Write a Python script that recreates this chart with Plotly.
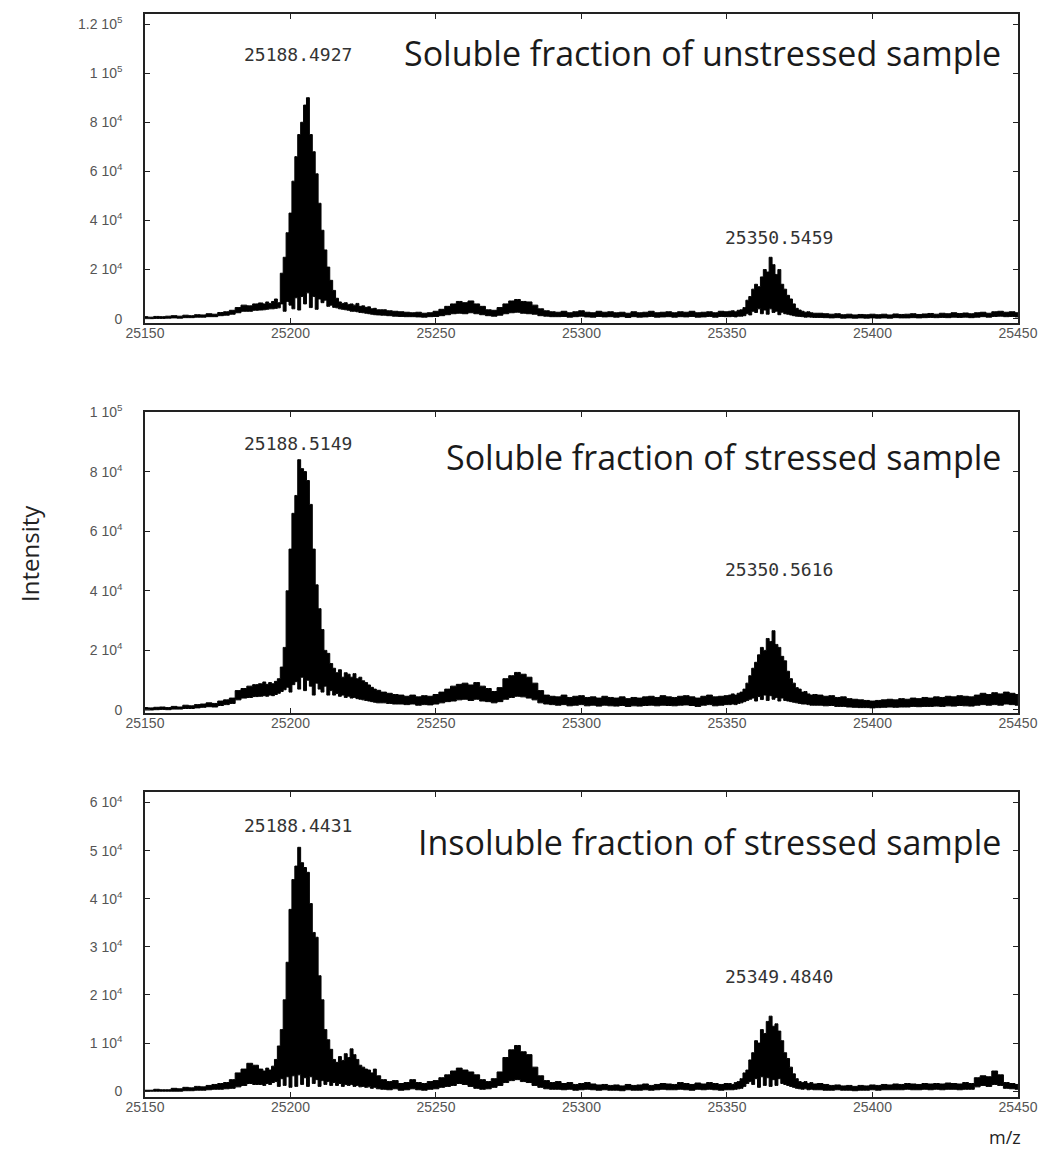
import plotly.graph_objects as go
from plotly.subplots import make_subplots

# m/z sampling grid (2 Da in flat regions, 1 Da across the two main peaks)
mz = [
	25150, 25152, 25154, 25156, 25158, 25160, 25162, 25164, 25166, 25168,
	25170, 25172, 25174, 25176, 25178, 25180, 25182, 25184, 25186, 25188,
	25190, 25191, 25192, 25193, 25194, 25195, 25196, 25197, 25198, 25199,
	25200, 25201, 25202, 25203, 25204, 25205, 25206, 25207, 25208, 25209,
	25210, 25211, 25212, 25213, 25214, 25215, 25216, 25217, 25218, 25219,
	25220, 25221, 25222, 25223, 25224, 25225, 25226, 25227, 25228, 25229,
	25230,
	25232, 25234, 25236, 25238, 25240, 25242, 25244, 25246, 25248, 25250,
	25252, 25254, 25256, 25258, 25260, 25262, 25264, 25266, 25268, 25270,
	25272, 25274, 25276, 25278, 25280, 25282, 25284, 25286, 25288, 25290,
	25292, 25294, 25296, 25298, 25300, 25302, 25304, 25306, 25308, 25310,
	25312, 25314, 25316, 25318, 25320, 25322, 25324, 25326, 25328, 25330,
	25332, 25334, 25336, 25338, 25340, 25342, 25344, 25346, 25348, 25350,
	25351, 25352, 25353, 25354, 25355, 25356, 25357, 25358, 25359, 25360,
	25361, 25362, 25363, 25364, 25365, 25366, 25367, 25368, 25369, 25370,
	25371, 25372, 25373, 25374, 25375, 25376, 25377, 25378, 25379, 25380,
	25382, 25384, 25386, 25388, 25390, 25392, 25394, 25396, 25398, 25400,
	25402, 25404, 25406, 25408, 25410, 25412, 25414, 25416, 25418, 25420,
	25422, 25424, 25426, 25428, 25430, 25432, 25434, 25436, 25438, 25440,
	25442, 25444, 25446, 25448, 25450,
]

# intensities in thousands of counts: top and bottom of the noisy trace
unstressed_top = [
	0.8,0.6,0.9,0.8,1.0,1.2,1.0,1.4,1.2,1.6, 1.5,2.0,1.8,2.5,2.8,3.4,4.5,5.5,5.2,6.0,
	6.4,6.0,6.8,6.2,7.0,8.0,6.5,18.5,25,35, 43,56,66,75,80,87,90,75,68,59,
	47,36,28,21,15.6,11.5,8.3,6.8,6.2,6.5, 5.8,6.0,5.5,6.2,5.0,5.2,4.6,4.8,4.0,4.2, 3.6,
	3.6,3.2,3.0,2.8,2.6,2.4,2.6,2.2,2.4,3.0, 3.8,5.0,6.0,7.0,6.5,7.2,6.0,5.0,3.6,3.4,
	4.5,6.0,7.2,7.8,7.0,6.8,5.5,4.0,3.2,2.8, 2.6,3.0,2.4,2.8,3.2,2.6,2.4,3.0,2.6,2.8,
	2.4,2.6,2.2,2.8,2.4,2.6,3.0,2.4,2.6,2.8, 2.4,2.8,2.6,3.0,2.4,2.6,2.8,2.4,3.0,2.8,
	3.0,3.2,2.8,3.4,3.6,4.5,7.5,9.0,12,14, 13,17,20,19,25,22,18,20,14,12,
	9.5,8.0,6.0,4.2,3.5,3.0,2.6,2.8,2.4,2.2,
	2.2,2.0,1.8,2.0,1.6,1.8,1.5,1.7,1.6,1.8, 1.6,1.8,1.5,1.9,1.7,1.8,2.0,1.7,1.9,2.1,
	1.8,2.2,2.0,2.4,2.1,2.3,2.0,2.4,2.6,2.2, 2.8,3.0,2.6,2.8,2.4,
]
unstressed_bottom = [
	0.0,0.0,0.1,0.1,0.2,0.3,0.2,0.4,0.4,0.6, 0.6,0.8,0.8,1.2,1.4,1.8,2.4,3.0,3.0,3.4,
	3.5,3.6,3.8,4.0,4.0,4.2,4.4,6.0,3.0,7.0, 5.5,4.0,8.5,3.5,9.0,6.0,10.5,4.5,9.0,3.8,
	8.0,6.5,7.5,5.0,5.5,4.6,4.4,4.0,3.8,3.6, 3.4,3.0,3.0,2.8,2.5,2.4,2.2,2.0,1.8,1.6, 1.5,
	1.4,1.2,1.0,0.9,0.8,0.8,0.7,0.6,0.8,0.9, 1.2,1.6,2.0,2.2,2.0,2.4,2.0,1.6,1.2,1.0,
	1.4,2.0,2.4,2.6,2.2,2.0,1.8,1.2,1.0,0.8, 0.8,0.9,0.6,0.8,1.0,0.7,0.6,0.9,0.7,0.8,
	0.6,0.8,0.5,0.8,0.6,0.7,0.9,0.6,0.7,0.8, 0.6,0.8,0.7,0.9,0.6,0.7,0.9,0.6,0.9,0.8,
	0.8,0.9,0.7,1.0,1.0,1.2,2.0,1.5,3.0,2.5, 4.0,2.0,3.5,1.8,4.0,2.5,3.0,1.6,2.6,2.0,
	1.8,1.5,1.2,1.0,0.9,0.8,0.6,0.7,0.6,0.5,
	0.5,0.4,0.3,0.4,0.2,0.3,0.2,0.3,0.2,0.3, 0.2,0.3,0.2,0.4,0.3,0.3,0.4,0.3,0.4,0.5,
	0.4,0.5,0.4,0.6,0.5,0.6,0.4,0.6,0.8,0.6, 0.9,1.0,0.8,0.9,0.7,
]

soluble_stressed_top = [
	0.8,0.7,0.9,1.0,0.8,1.2,1.0,1.6,1.4,1.8, 2.0,2.4,2.2,3.0,3.4,4.0,6.5,7.2,8.0,8.5,
	8.8,9.4,8.6,9.2,8.8,9.6,10.5,14.4,21,40, 54,66,72,84,81,80,77,69,54,42,
	34,27,20,19,15.6,14,12.5,13.5,11,12.5, 12,11,12.2,10.5,11,9.8,9.2,8.4,7.6,7.0, 6.6,
	6.0,5.6,5.2,5.0,4.6,5.0,4.4,4.8,4.6,5.2, 6.0,7.0,8.0,8.6,9.0,8.4,9.2,8.0,7.2,6.2,
	7.5,10.5,11.5,12.6,12.0,11.0,9.0,6.5,5.0,4.6, 4.4,5.0,4.2,4.6,4.8,4.2,4.4,4.0,4.6,4.2,
	4.0,4.4,3.8,4.2,4.0,4.4,4.6,4.2,4.8,4.4, 4.2,4.6,4.8,4.4,4.0,4.6,5.0,4.4,4.6,4.8,
	5.0,5.4,5.0,5.6,6.0,7.0,9.0,11.5,14,16, 18.5,21,20,24,23,26.6,22,21,18,16.5,
	13,10.5,9.0,7.5,7.0,6.0,6.2,5.4,5.0,5.2,
	5.0,4.6,4.8,4.2,4.4,3.8,3.6,3.4,3.2,3.0, 3.2,3.4,3.6,3.4,3.8,3.6,4.0,3.8,4.2,4.0,
	4.4,4.2,4.6,4.4,4.8,4.6,4.4,5.0,5.6,5.2, 5.8,5.4,6.0,5.6,5.2,
]
soluble_stressed_bottom = [
	0.0,0.0,0.1,0.2,0.1,0.3,0.3,0.5,0.5,0.7, 0.9,1.1,1.0,1.5,1.8,2.2,3.4,4.0,4.2,4.5,
	4.6,4.8,4.6,5.0,4.8,5.2,5.6,6.2,6.8,7.6, 6.0,8.5,9.5,7.0,11,6.5,10,8.0,5.0,9.0,
	7.0,6.0,8.0,5.0,6.5,5.0,5.5,4.6,5.0,4.2, 4.6,4.0,4.2,3.8,3.6,3.4,3.2,3.0,2.8,2.6, 2.4,
	2.4,2.2,2.0,2.0,1.8,2.0,1.6,1.8,1.7,2.0, 2.4,2.8,3.0,3.4,3.6,3.2,3.6,3.0,2.8,2.4,
	2.8,3.6,4.2,4.6,4.4,4.0,3.4,2.4,2.0,1.8, 1.6,1.8,1.4,1.6,1.8,1.4,1.6,1.3,1.6,1.4,
	1.3,1.5,1.2,1.4,1.3,1.5,1.6,1.4,1.6,1.5, 1.4,1.6,1.7,1.5,1.2,1.6,1.8,1.4,1.6,1.8,
	1.8,2.0,1.8,2.2,2.4,2.8,3.2,3.6,4.0,3.0, 4.5,3.5,5.0,3.2,4.8,3.6,4.2,3.0,4.0,3.2,
	3.0,2.8,2.6,2.4,2.2,2.0,2.0,1.8,1.6,1.6,
	1.6,1.4,1.5,1.2,1.2,1.0,0.9,0.8,0.8,0.7, 0.8,0.9,1.0,0.9,1.0,1.0,1.2,1.1,1.2,1.2,
	1.3,1.2,1.4,1.3,1.5,1.4,1.3,1.6,1.8,1.6, 1.8,1.6,2.0,1.8,1.6,
]

insoluble_stressed_top = [
	0.2,0.2,0.4,0.3,0.3,0.6,0.5,0.8,0.7,1.0, 0.9,1.2,1.4,1.6,1.8,2.4,3.8,4.6,5.8,5.4,
	4.6,4.2,4.8,4.4,5.2,6.6,9.4,12.8,19,26.8, 37.8,44,46.8,50.7,47.5,46.5,45.5,39,33,32,
	24,19,12.8,10.7,8.7,6.6,6.0,7.2,6.4,7.8, 7.0,8.8,7.6,6.6,5.4,5.0,4.6,4.4,3.8,4.6, 3.2,
	2.4,2.0,2.2,1.6,1.8,2.4,1.8,1.6,2.0,2.2, 2.8,3.4,4.2,4.8,4.4,4.0,3.4,2.4,2.0,2.6,
	4.0,7.0,8.6,9.5,8.2,7.6,5.0,3.2,2.2,1.8, 2.0,1.6,1.8,1.4,1.6,1.8,1.5,1.3,1.4,1.2,
	1.3,1.1,1.4,1.2,1.3,1.5,1.2,1.4,1.6,1.5, 1.4,1.8,1.6,1.4,1.7,1.5,1.8,1.6,1.4,1.6,
	1.6,1.4,1.8,2.0,2.6,3.8,4.4,6.5,8.0,10.5, 10,12.8,12,14.5,15.6,13.5,14,12.5,10.5,8.0,
	6.8,5.0,3.6,2.6,2.0,1.8,2.0,1.6,1.8,1.5,
	1.6,1.4,1.2,1.3,1.1,1.2,1.0,1.2,1.1,1.3, 1.2,1.4,1.3,1.5,1.4,1.6,1.5,1.4,1.6,1.5,
	1.6,1.5,1.7,1.6,1.5,1.8,1.6,2.8,3.2,3.0, 4.2,3.4,1.8,1.6,1.4,
]
insoluble_stressed_bottom = [
	0.0,0.0,0.0,0.0,0.0,0.0,0.0,0.1,0.1,0.2, 0.2,0.3,0.4,0.4,0.5,0.6,0.9,1.2,1.6,1.4,
	1.4,1.2,1.6,1.4,1.8,2.0,1.0,2.6,1.2,3.0, 0.8,3.2,1.0,3.4,1.4,2.8,1.0,3.0,1.6,2.4,
	1.0,2.2,1.4,2.0,1.2,1.8,1.2,1.6,1.0,1.4, 1.2,1.4,1.0,1.2,0.9,1.0,0.8,0.9,0.6,0.8, 0.5,
	0.4,0.3,0.5,0.2,0.3,0.5,0.3,0.2,0.4,0.5, 0.8,1.0,1.2,1.6,1.4,1.0,0.6,0.4,0.5,0.8,
	1.2,1.8,2.2,2.4,2.0,1.8,1.2,0.8,0.5,0.4, 0.4,0.3,0.4,0.2,0.3,0.4,0.3,0.2,0.3,0.2,
	0.2,0.1,0.3,0.2,0.2,0.3,0.2,0.3,0.4,0.3, 0.3,0.4,0.3,0.2,0.4,0.3,0.4,0.3,0.2,0.3,
	0.3,0.3,0.4,0.5,0.6,1.0,1.6,2.0,1.4,2.6, 0.8,3.0,1.2,2.8,1.0,2.4,1.2,2.6,1.6,1.4,
	1.2,1.0,0.8,0.6,0.5,0.4,0.5,0.3,0.4,0.3,
	0.3,0.2,0.2,0.3,0.2,0.2,0.1,0.2,0.2,0.3, 0.2,0.3,0.3,0.3,0.3,0.4,0.3,0.3,0.4,0.3,
	0.4,0.3,0.4,0.4,0.3,0.4,0.4,0.9,1.2,1.0, 1.4,1.2,0.6,0.5,0.4,
]

panel_titles = [
	'Soluble fraction of unstressed sample',
	'Soluble fraction of stressed sample',
	'Insoluble fraction of stressed sample',
]
peak_labels = [
	['25188.4927', '25350.5459'],
	['25188.5149', '25350.5616'],
	['25188.4431', '25349.4840'],
]
peak_label_mz = [25202.6, 25368]
peak_label_y = [[107800, 33200], [89600, 47300], [55300, 23900]]
title_y = [108300, 84900, 51700]

y_tickvals = [
	[0, 20000, 40000, 60000, 80000, 100000, 120000],
	[0, 20000, 40000, 60000, 80000, 100000],
	[0, 10000, 20000, 30000, 40000, 50000, 60000],
]
y_ticktext = [
	['0', '2 10<sup>4</sup>', '4 10<sup>4</sup>', '6 10<sup>4</sup>', '8 10<sup>4</sup>', '1 10<sup>5</sup>', '1.2 10<sup>5</sup>'],
	['0', '2 10<sup>4</sup>', '4 10<sup>4</sup>', '6 10<sup>4</sup>', '8 10<sup>4</sup>', '1 10<sup>5</sup>'],
	['0', '1 10<sup>4</sup>', '2 10<sup>4</sup>', '3 10<sup>4</sup>', '4 10<sup>4</sup>', '5 10<sup>4</sup>', '6 10<sup>4</sup>'],
]
y_ranges = [[-1800, 124100], [-1000, 100000], [-1200, 62200]]
x_tickvals = [25150, 25200, 25250, 25300, 25350, 25400, 25450]

spectra = [
	(unstressed_top, unstressed_bottom),
	(soluble_stressed_top, soluble_stressed_bottom),
	(insoluble_stressed_top, insoluble_stressed_bottom),
]

fig = make_subplots(rows=3, cols=1)
for i,(top,bottom) in enumerate(spectra):
	assert len(top) == len(mz) and len(bottom) == len(mz)
	fig.add_trace(
		go.Scatter(
			x = mz,
			y = [v*1000 for v in bottom],
			mode = 'lines',
			line = dict(color='black', width=1, shape='hvh'),
			showlegend = False,
		),
		row = i+1, col = 1,
	)
	fig.add_trace(
		go.Scatter(
			x = mz,
			y = [v*1000 for v in top],
			mode = 'lines',
			line = dict(color='black', width=1, shape='hvh'),
			fill = 'tonexty',
			fillcolor = 'black',
			showlegend = False,
		),
		row = i+1, col = 1,
	)

# the page body adds an 8 px offset, so domains are set 8 px up/left
y_domains = [[0.7277, 0.9948], [0.3907, 0.6508], [0.0588, 0.3224]]
axis_style = dict(
	showline = True,
	linecolor = '#222',
	linewidth = 1.5,
	mirror = 'ticks',
	ticks = 'inside',
	ticklen = 5,
	tickcolor = '#222',
	showgrid = False,
	zeroline = False,
	tickfont = dict(family='Liberation Sans', size=14, color='#555'),
)
for i in range(3):
	fig.update_xaxes(
		range = [25150, 25450],
		domain = [0.1297, 0.9564],
		tickvals = x_tickvals,
		tickformat = 'd',
		ticklabelstandoff = -4,
		row = i+1, col = 1,
		**axis_style,
	)
	fig.update_yaxes(
		range = y_ranges[i],
		domain = y_domains[i],
		tickvals = y_tickvals[i],
		ticktext = y_ticktext[i],
		ticklabelstandoff = 18,
		row = i+1, col = 1,
		**axis_style,
	)
	suffix = '' if i == 0 else str(i+1)
	fig.add_annotation(
		x = 25445, y = title_y[i],
		xref = 'x'+suffix, yref = 'y'+suffix,
		text = panel_titles[i],
		showarrow = False,
		xanchor = 'right', yanchor = 'middle',
		font = dict(family='Open Sans', size=34, color='#1a1a1a'),
	)
	for label,x,y in zip(peak_labels[i], peak_label_mz, peak_label_y[i]):
		fig.add_annotation(
			x = x, y = y,
			xref = 'x'+suffix, yref = 'y'+suffix,
			text = label,
			showarrow = False,
			font = dict(family='DejaVu Sans Mono', size=18, color='#333'),
		)

fig.add_annotation(
	x = 0.0208, y = 0.5290,
	xref = 'paper', yref = 'paper',
	xanchor = 'center', yanchor = 'middle',
	text = 'Intensity',
	textangle = -90,
	showarrow = False,
	font = dict(family='Open Sans', size=24, color='#222'),
)
fig.add_annotation(
	x = 0.9441, y = 0.0242,
	xref = 'paper', yref = 'paper',
	xanchor = 'center', yanchor = 'middle',
	text = 'm/z',
	showarrow = False,
	font = dict(family='Open Sans', size=18, color='#222'),
)

fig.update_layout(
	width = 1056,
	height = 1157,
	margin = dict(l=0, r=0, t=0, b=0, autoexpand=False),
	plot_bgcolor = 'white',
	paper_bgcolor = 'white',
)
fig.write_html('out.html')
